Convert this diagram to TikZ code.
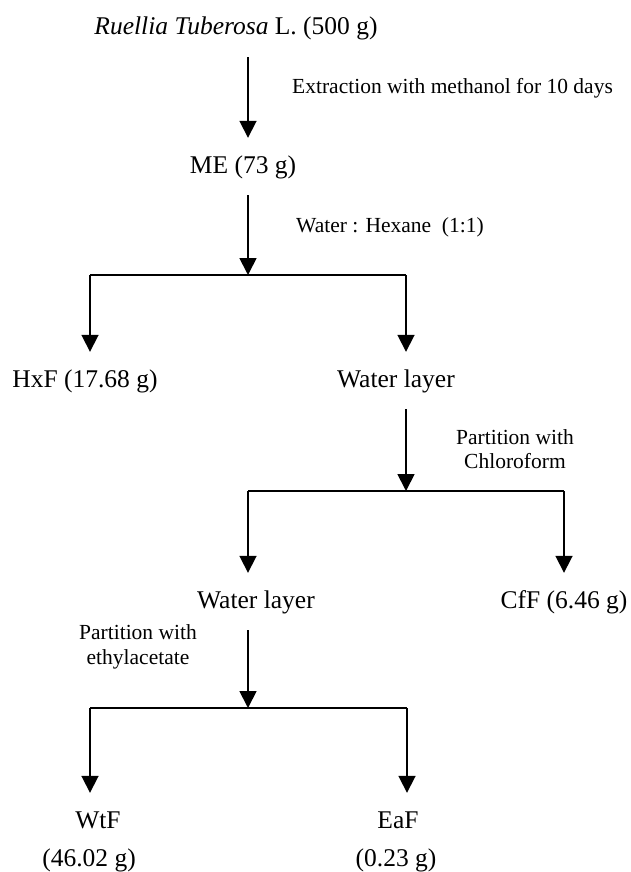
\documentclass[tikz,border=0pt]{standalone}
\usepackage{fontspec}
\setmainfont{Liberation Serif}
\usetikzlibrary{arrows.meta}
\tikzset{
  stage/.style={anchor=base,font=\fontsize{25.5}{30}\selectfont,inner sep=0pt,
    text height=18pt,text depth=5pt,inner ysep=17pt},
  step note/.style={font=\fontsize{21.5}{24.5}\selectfont,inner sep=0pt,align=center},
  flow/.style={line width=1.8pt,-{Triangle[width=17pt,length=17pt]}},
  bar/.style={line width=1.8pt}
}
\begin{document}
\begin{tikzpicture}[x=1pt,y=-1pt]
  \useasboundingbox (0,0) rectangle (630,872);
  \draw
    (236,35) node[stage] (rt){\textit{Ruellia Tuberosa} L. (500 g)}
    (243,173) node[stage] (me){ME (73 g)}
    (85,387) node[stage] (hxf){HxF (17.68 g)}
    (396,387) node[stage] (wl1){Water layer}
    (256,608) node[stage] (wl2){Water layer}
    (564,608) node[stage] (cff){CfF (6.46 g)}
    (98,828) node[stage] (wtf){WtF}
    (89,866) node[stage] (wtfw){(46.02 g)}
    (398,828) node[stage] (eaf){EaF}
    (396,866) node[stage] (eafw){(0.23 g)};
  \draw
    (292,94) node[step note,anchor=base west] (ext){Extraction with methanol for 10 days}
    (296,232) node[step note,anchor=base west] (hex){Water : Hexane\ \ (1:1)}
    (515,449) node[step note] (chl){Partition with\\Chloroform}
    (138,647) node[step note] (eac){Partition with\\ethylacetate};
  \coordinate (s1) at (248,275);
  \coordinate (l1) at (90,275);
  \coordinate (r1) at (406,275);
  \coordinate (s2) at (406,491);
  \coordinate (l2) at (248,491);
  \coordinate (r2) at (564,491);
  \coordinate (s3) at (248,708);
  \coordinate (l3) at (90,708);
  \coordinate (r3) at (407,708);
  \begin{scope}[flow]
    \draw (rt.south -| s1) to (me.north -| s1);
    \draw (me.south -| s1) to (s1);
    \draw (l1) to (hxf.north -| l1);
    \draw (r1) to (wl1.north -| r1);
    \draw (wl1.south -| s2) to (s2);
    \draw (l2) to (wl2.north -| l2);
    \draw (r2) to (cff.north -| r2);
    \draw (wl2.south -| s3) to (s3);
    \draw (l3) to (wtf.north -| l3);
    \draw (r3) to (eaf.north -| r3);
  \end{scope}
  \begin{scope}[bar]
    \draw (l1) to (r1);
    \draw (l2) to (r2);
    \draw (l3) to (r3);
  \end{scope}
\end{tikzpicture}
\end{document}
